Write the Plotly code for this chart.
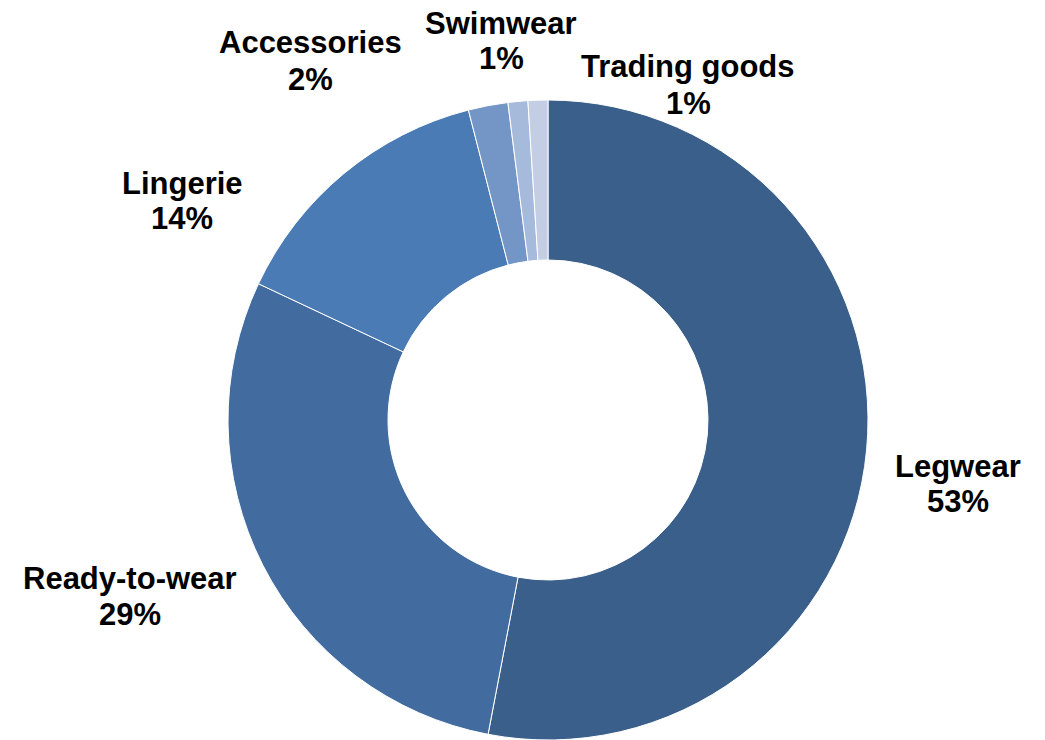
import plotly.graph_objects as go

categories = ["Legwear", "Ready-to-wear", "Lingerie", "Accessories", "Swimwear", "Trading goods"]
values = [53, 29, 14, 2, 1, 1]
colors = ["#3B5F8B", "#426C9F", "#4A7BB5", "#7396C6", "#A6BADC", "#C3CEE4"]
# label centres in pixels (x, y from top)
label_px = [(958, 483), (130, 595), (182, 200), (310, 60), (501, 40), (688, 84)]

W, H = 1045, 740
cx, cy, R = 548, 420, 320
FONT = dict(family="Liberation Sans, Arial, sans-serif", size=31, color="black")

fig = go.Figure(go.Pie(
    labels=categories,
    values=values,
    hole=0.5,
    sort=False,
    direction="clockwise",
    rotation=0,
    marker=dict(colors=colors, line=dict(color="white", width=1)),
    textinfo="none",
    hoverinfo="label+percent",
    showlegend=False,
    domain=dict(x=[(cx - R) / W, (cx + R) / W], y=[(H - cy - R) / H, (H - cy + R) / H]),
))

for cat, val, (px, py) in zip(categories, values, label_px):
    for txt, dy in ((cat, -17), (f"{val}%", 19)):
        fig.add_annotation(
            x=px / W, y=1 - (py + dy) / H, xref="paper", yref="paper",
            text=f"<b>{txt}</b>",
            showarrow=False, xanchor="center", yanchor="middle", align="center",
            font=FONT,
        )

fig.update_layout(
    width=W, height=H,
    margin=dict(l=0, r=0, t=0, b=0),
    paper_bgcolor="white", plot_bgcolor="white",
)

fig.write_html("out.html")
